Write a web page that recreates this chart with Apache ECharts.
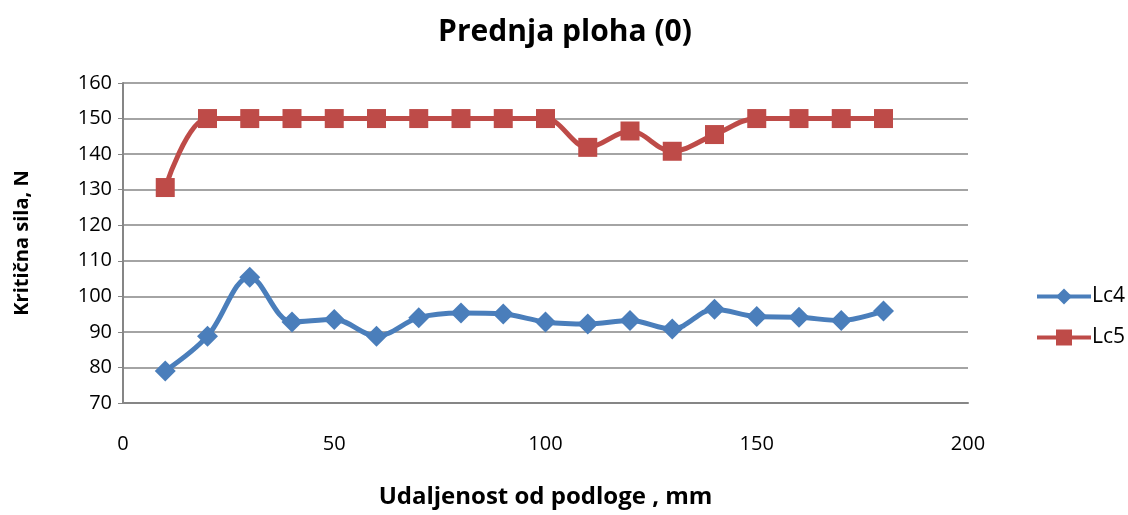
<!DOCTYPE html>
<html>
<head>
<meta charset="utf-8">
<script src="https://cdn.jsdelivr.net/npm/echarts@6/dist/echarts.min.js"></script>
<style>
  html, body { margin: 0; padding: 0; background: #fff; }
  #main { width: 1128px; height: 515px; }
</style>
</head>
<body>
<div id="main"></div>
<script>
// udaljenost od podloge, mm
var distances = [10, 20, 30, 40, 50, 60, 70, 80, 90, 100, 110, 120, 130, 140, 150, 160, 170, 180];
var lc4 = [79.0, 88.8, 105.4, 92.8, 93.5, 88.8, 94.0, 95.3, 95.0, 92.8, 92.2, 93.2, 90.8, 96.4, 94.3, 94.1, 93.2, 95.9];
var lc5 = [130.6, 150, 150, 150, 150, 150, 150, 150, 150, 150, 141.9, 146.5, 140.8, 145.5, 150, 150, 150, 150];

function pairs(vals) {
    return distances.map(function (d, i) { return [d, vals[i]]; });
}

var font = '"Open Sans", "Liberation Sans", sans-serif';
var chart = echarts.init(document.getElementById('main'));

chart.setOption({
    animation: false,
    title: {
        text: 'Prednja ploha (0)',
        left: 560,
        textAlign: 'center',
        top: 12,
        textStyle: { fontFamily: font, fontSize: 30, fontWeight: 'bold', color: '#000' }
    },
    legend: {
        orient: 'vertical',
        left: 1030,
        top: 281,
        itemGap: 20,
        itemWidth: 54,
        itemHeight: 20,
        lineStyle: { width: 4 },
        textStyle: { fontFamily: font, fontSize: 21, color: '#000', padding: [0, 0, 0, -4] },
        data: ['Lc4', 'Lc5']
    },
    grid: { left: 123, right: 160, top: 83, bottom: 112 },
    xAxis: {
        type: 'value',
        min: 0,
        max: 200,
        interval: 50,
        name: 'Udaljenost od podloge , mm',
        nameLocation: 'middle',
        nameGap: 82,
        nameTextStyle: { fontFamily: font, fontSize: 24, fontWeight: 'bold', color: '#000' },
        axisLine: { lineStyle: { color: '#868686', width: 2 } },
        axisTick: { show: false },
        axisLabel: { fontFamily: font, fontSize: 20, color: '#000', margin: 31 },
        splitLine: { show: false }
    },
    yAxis: {
        type: 'value',
        min: 70,
        max: 160,
        interval: 10,
        name: 'Kritična sila, N',
        nameLocation: 'middle',
        nameGap: 91,
        nameTextStyle: { fontFamily: font, fontSize: 20, fontWeight: 'bold', color: '#000' },
        axisLine: { show: true, lineStyle: { color: '#868686', width: 2 } },
        axisTick: { show: true, length: 5, lineStyle: { color: '#868686', width: 1 } },
        axisLabel: { fontFamily: font, fontSize: 20, color: '#000', margin: 11 },
        splitLine: { lineStyle: { color: '#868686', width: 1.5 } }
    },
    series: [
        {
            name: 'Lc4',
            type: 'line',
            smooth: 0.35,
            data: pairs(lc4),
            symbol: 'diamond',
            symbolSize: 21,
            lineStyle: { color: '#4a7ebb', width: 5 },
            itemStyle: { color: '#4a7ebb' }
        },
        {
            name: 'Lc5',
            type: 'line',
            smooth: 0.35,
            data: pairs(lc5),
            symbol: 'rect',
            symbolSize: 19,
            lineStyle: { color: '#be4b48', width: 5 },
            itemStyle: { color: '#be4b48' }
        }
    ]
});
</script>
</body>
</html>
